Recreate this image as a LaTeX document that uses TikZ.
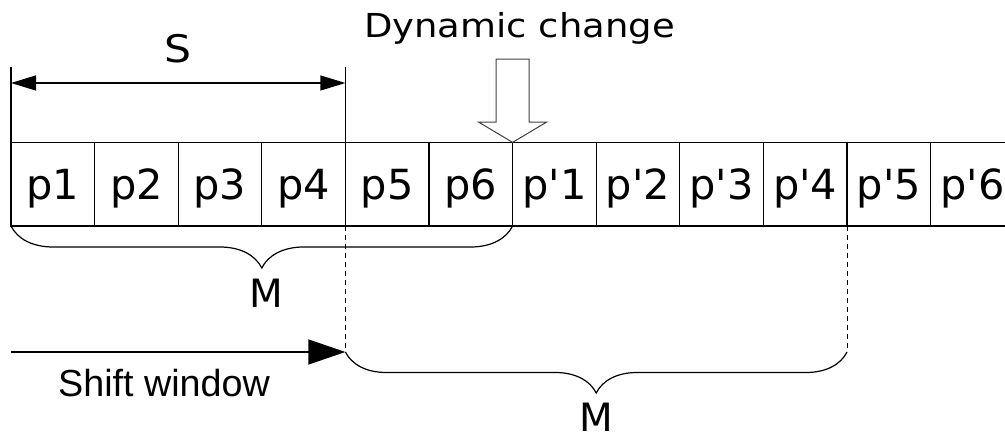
\documentclass[tikz,border=0pt]{standalone}
\usepackage{fontspec}
\setmainfont{DejaVu Sans}
\newfontfamily\arialfont{Liberation Sans}
\newfontfamily\widefont[FakeStretch=1.12]{DejaVu Sans}
\usetikzlibrary{arrows.meta, positioning, decorations.pathreplacing}

\newcommand{\prm}{\textquotesingle}

\begin{document}
\begin{tikzpicture}[x=1pt, y=1pt, line width=1.2pt,
    cellbox/.style={draw, minimum size=83.6pt, inner sep=0pt, outer sep=0pt,
      font=\fontsize{41.5}{48}\selectfont, text height=41.5pt, text depth=10pt},
    bigbrace/.style={decorate, decoration={brace, mirror, amplitude=#1}},
    guide/.style={dash pattern=on 5pt off 4pt, line width=0.9pt},
    mlabel/.style={anchor=base, font=\fontsize{39}{46}\selectfont}]
    \useasboundingbox (-11,-209) rectangle (994,226);
    \clip (-11,-209) rectangle (994,226);

    % row of pages
    \node[cellbox, anchor=south west] (c1) at (0,0) {p1};
    \foreach \lab [count=\i from 2, remember=\i as \prev (initially 1)] in
        {p2,p3,p4,p5,p6,p\prm1,p\prm2,p\prm3,p\prm4,p\prm5,p\prm6}
        \node[cellbox, right=0pt of c\prev] (c\i) {\lab};

    % size S
    \coordinate (dimL) at (0,143);
    \coordinate (dimR) at (c4.north east |- dimL);
    \draw (c1.north west) -- ++(0,75.4);
    \draw (c4.north east) -- ++(0,75.4);
    \draw[<->, >={Triangle[length=25pt,width=15pt]}] (dimL) -- (dimR);
    \node[anchor=base, font=\widefont\fontsize{38}{45}\selectfont] (slab) at (167,163) {S};

    % dynamic change
    \node[anchor=base, font=\widefont\fontsize{33}{40}\selectfont] (dyn) at (508.5,188.7) {Dynamic change};
    \draw[line width=1pt, draw=black!75] (c6.north east) -- ++(-34,20.3) -- ++(17.5,0) -- ++(0,63)
        -- ++(33,0) -- ++(0,-63) -- ++(17.5,0) -- cycle;

    % first window
    \draw[bigbrace=42pt] (c1.south west) -- (c6.south east);
    \node[mlabel] (m1) at (255,-82) {M};

    % shifted window
    \coordinate (shiftL) at (0,-126);
    \coordinate (shiftR) at (c4.south east |- shiftL);
    \coordinate (winR) at (c10.south east |- shiftL);
    \draw[-{Triangle[length=37pt,width=25pt]}] (shiftL) -- (shiftR);
    \node[anchor=base, font=\arialfont\fontsize{37.7}{44}\selectfont] (shiftlab) at (153,-171) {Shift window};
    \draw[guide] (c4.south east) -- (shiftR);
    \draw[guide] (c10.south east) -- (winR);
    \draw[bigbrace=41pt] (shiftR) -- (winR);
    \node[mlabel] (m2) at (585,-206) {M};
\end{tikzpicture}
\end{document}
